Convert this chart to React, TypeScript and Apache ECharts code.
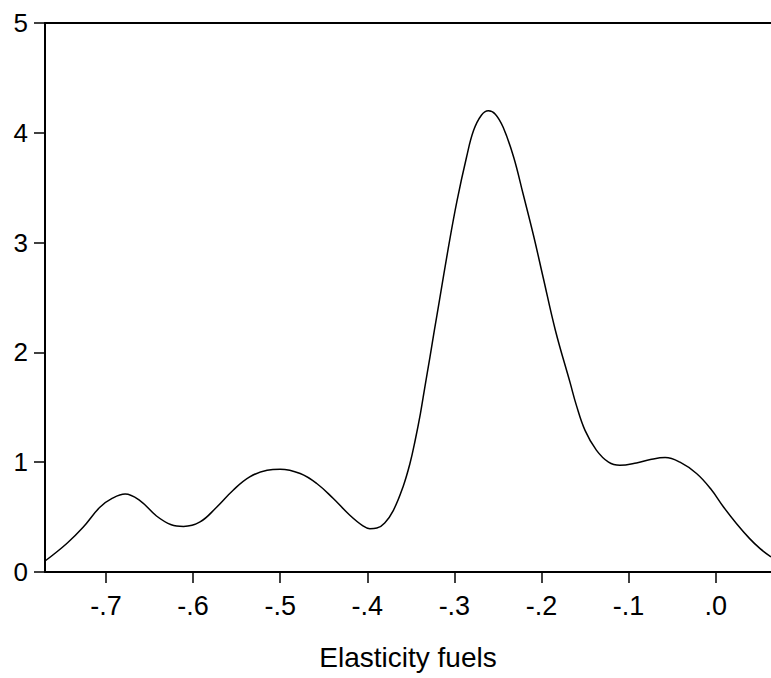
import React, { useEffect, useRef } from "react";
import * as echarts from "echarts";

const xValues = [
  -0.770, -0.745, -0.726, -0.707, -0.693, -0.678, -0.661, -0.642, -0.625, -0.611,
  -0.592, -0.573, -0.554, -0.535, -0.515, -0.500, -0.477, -0.458, -0.439, -0.420,
  -0.405, -0.397, -0.389, -0.380, -0.370, -0.359, -0.351, -0.345, -0.339, -0.334,
  -0.328, -0.323, -0.317, -0.307, -0.297, -0.286, -0.278, -0.269, -0.261, -0.253,
  -0.244, -0.232, -0.221, -0.209, -0.198, -0.184, -0.167, -0.160, -0.150, -0.137,
  -0.123, -0.110, -0.091, -0.075, -0.058, -0.041, -0.022, -0.006, 0.009, 0.024,
  0.039, 0.051, 0.0635,
];
const densityValues = [
  0.10, 0.26, 0.41, 0.59, 0.67, 0.71, 0.65, 0.51, 0.43, 0.415,
  0.456, 0.59, 0.745, 0.866, 0.927, 0.936, 0.897, 0.806, 0.669, 0.517,
  0.42, 0.395, 0.40, 0.447, 0.562, 0.775, 0.988, 1.20, 1.443, 1.68,
  1.96, 2.2, 2.48, 2.95, 3.38, 3.78, 4.02, 4.16, 4.20, 4.17,
  4.05, 3.78, 3.44, 3.06, 2.68, 2.20, 1.72, 1.52, 1.29, 1.11,
  1.00, 0.972, 0.993, 1.024, 1.042, 1.00, 0.897, 0.76, 0.592, 0.44,
  0.304, 0.213, 0.137,
];
const xTicks = [-0.7, -0.6, -0.5, -0.4, -0.3, -0.2, -0.1, 0.0];
const xMin = -0.77;
const xMax = 0.0635;
const xTitle = "Elasticity fuels";

const FONT = 'Arial, "Liberation Sans", sans-serif';

function fmtX(v: number): string {
  const n = Math.round(Math.abs(v) * 10);
  return (v < -1e-9 ? "-" : "") + "." + n;
}

export default function App() {
  const ref = useRef<HTMLDivElement>(null);
  useEffect(() => {
    if (!ref.current) return;
    const chart = echarts.init(ref.current, null, { renderer: "svg" });
    const data = xValues.map((x, i) => [x, densityValues[i]]);
    chart.setOption({
      animation: false,
      backgroundColor: "#ffffff",
      grid: { left: 45, right: 0, top: 23, bottom: 106 },
      xAxis: [
        {
          type: "value",
          position: "bottom",
          min: xMin,
          max: xMax,
          name: xTitle,
          nameLocation: "middle",
          nameGap: 71,
          nameTextStyle: { fontFamily: FONT, fontSize: 28, color: "#000" },
          axisLine: { show: true, onZero: false, lineStyle: { color: "#000", width: 2 } },
          axisTick: {
            show: true,
            length: 11,
            customValues: xTicks,
            lineStyle: { color: "#000", width: 1.5 },
          },
          axisLabel: {
            show: true,
            customValues: xTicks,
            margin: 20,
            fontFamily: FONT,
            fontSize: 27,
            color: "#000",
            formatter: (v: number) => fmtX(v),
          },
          splitLine: { show: false },
        },
        {
          type: "value",
          position: "top",
          min: xMin,
          max: xMax,
          axisLine: { show: true, onZero: false, lineStyle: { color: "#000", width: 2 } },
          axisTick: { show: false },
          axisLabel: { show: false },
          splitLine: { show: false },
        },
      ],
      yAxis: {
        type: "value",
        min: 0,
        max: 5,
        interval: 1,
        axisLine: { show: true, onZero: false, lineStyle: { color: "#000", width: 2 } },
        axisTick: { show: true, length: 11, lineStyle: { color: "#000", width: 1.5 } },
        axisLabel: {
          margin: 17,
          fontFamily: FONT,
          fontSize: 26,
          color: "#000",
          padding: [0, 0, 4, 0],
        },
        splitLine: { show: false },
      },
      series: [
        {
          type: "line",
          data,
          showSymbol: false,
          smooth: 0.4,
          lineStyle: { color: "#000", width: 1.5 },
          clip: true,
        },
      ],
    });
    return () => chart.dispose();
  }, []);
  return (
    <div
      ref={ref}
      style={{ position: "absolute", left: 0, top: 0, width: 771, height: 678 }}
    />
  );
}
